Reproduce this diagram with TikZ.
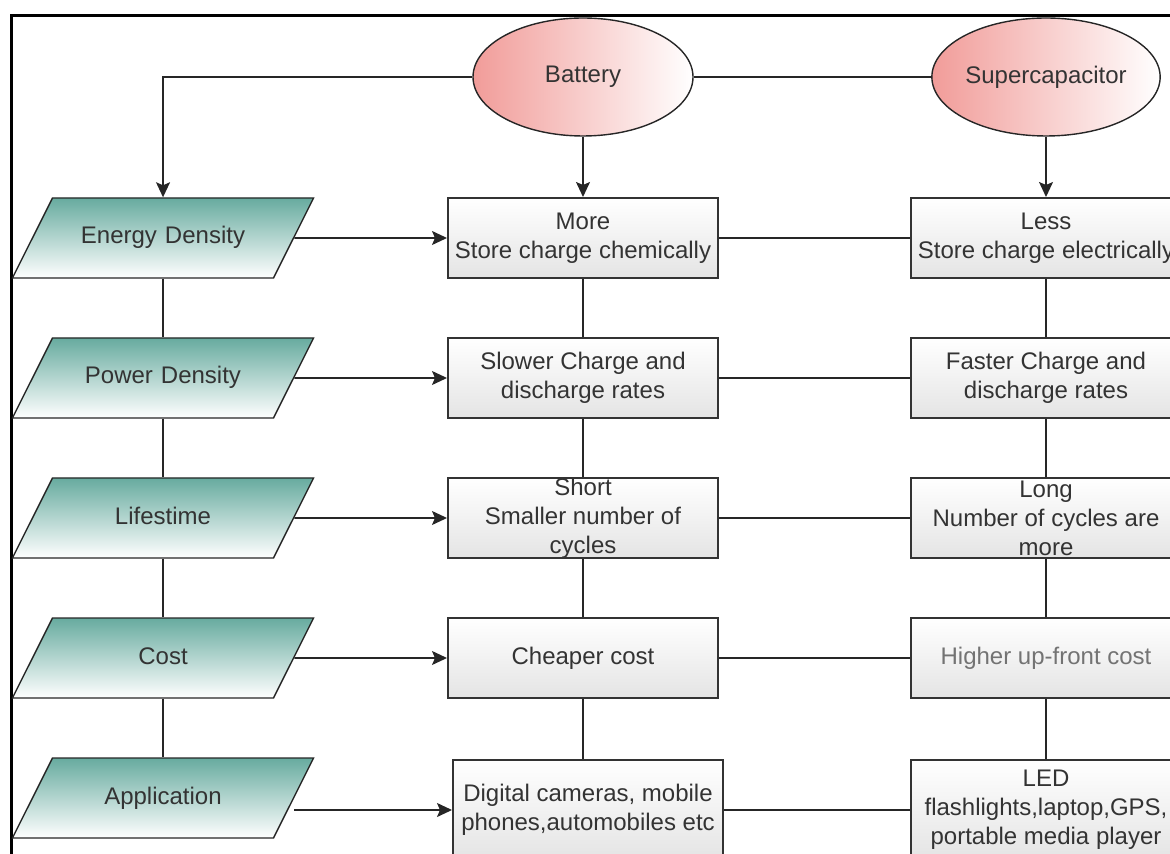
\documentclass[tikz,border=0pt]{standalone}
\usepackage{fontspec}
\setmainfont{Liberation Sans}
\usepackage{tikz}
\usetikzlibrary{shapes.geometric}
\usetikzlibrary{arrows.meta}
\definecolor{txtgray}{HTML}{333333}
\definecolor{ovalred}{HTML}{F19C99}
\definecolor{paragreen}{HTML}{67AB9F}
\definecolor{boxgray}{HTML}{E4E4E4}

\begin{document}
\begin{tikzpicture}[x=0.5pt,y=-0.5pt,
	font=\fontsize{12}{14.5}\selectfont,text=txtgray,
	oval/.style={ellipse,draw=black!85,line width=0.7pt,left color=ovalred,right color=white,
		minimum width=110pt,minimum height=59pt,inner sep=0pt},
	para/.style={trapezium,trapezium left angle=63.4,trapezium right angle=116.6,
		draw=black!85,line width=0.7pt,top color=paragreen,bottom color=white,
		text width=110.5pt,align=center,text height=9pt,text depth=3pt,
		inner xsep=0pt,inner ysep=14pt},
	cell/.style={rectangle,draw=black!80,line width=1pt,top color=white,bottom color=boxgray,
		minimum width=135pt,minimum height=40pt,align=center,inner sep=0pt},
	link/.style={draw=black!85,line width=0.8pt},
	arr/.style={link,-{Stealth[length=7.5pt,width=7pt,inset=1.5pt]}}
	]
	\useasboundingbox (0,0) rectangle (1170,854);
	\clip (0,0) rectangle (1170,854);
	\draw[line width=1.5pt] (11,16) rectangle (1220,900);
	%%%%%%%%%%%%%%%
	\node[oval] (bat) at (583,77) {Battery};
	\node[oval] (sc) at (1046,77) {Supercapacitor};
	%%%%%%%%%%%%%%%
	\node[para] (ed) at (163,238) {Energy Density};
	\node[para] (pd) at (163,378) {Power Density};
	\node[para] (lt) at (163,518) {Lifestime};
	\node[para] (co) at (163,658) {Cost};
	\node[para] (ap) at (163,798) {Application};
	%%%%%%%%%%%%%%%
	\node[cell] (b1) at (583,238) {More\\Store charge chemically};
	\node[cell] (b2) at (583,378) {Slower Charge and\\discharge rates};
	\node[cell] (b3) at (583,518) {Short\\Smaller number of\\cycles};
	\node[cell] (b4) at (583,658) {Cheaper cost};
	\node[cell,minimum height=50pt] (b5) at (588,810) {Digital cameras, mobile\\phones,automobiles etc};
	%%%%%%%%%%%%%%%
	\node[cell] (s1) at (1046,238) {Less\\Store charge electrically};
	\node[cell] (s2) at (1046,378) {Faster Charge and\\discharge rates};
	\node[cell] (s3) at (1046,518) {Long\\Number of cycles are\\more};
	\node[cell,text=black!55] (s4) at (1046,658) {Higher up-front cost};
	\node[cell,minimum height=50pt] (s5) at (1046,810) {LED\\flashlights,laptop,GPS,\\portable media player};
	%%%%%%%%%%%%%%%
	\draw[arr] (bat.west) -| (ed.north);
	\draw[link] (bat.east) -- (sc.west);
	\draw[arr] (bat.south) -- (b1.north);
	\draw[arr] (sc.south) -- (s1.north);
	\draw[link] (ed.south) -- (pd.north);
	\draw[link] (pd.south) -- (lt.north);
	\draw[link] (lt.south) -- (co.north);
	\draw[link] (co.south) -- (ap.north);
	\draw[arr] (ed.east) -- (b1.west);
	\draw[arr] (pd.east) -- (b2.west);
	\draw[arr] (lt.east) -- (b3.west);
	\draw[arr] (co.east) -- (b4.west);
	\draw[arr] (ap.east |- b5) -- (b5.west);
	%%%%%%%%%%%%%%%
	\draw[link] (b1.east) -- (s1.west);
	\draw[link] (b2.east) -- (s2.west);
	\draw[link] (b3.east) -- (s3.west);
	\draw[link] (b4.east) -- (s4.west);
	\draw[link] (b5.east) -- (s5.west);
	\draw[link] (b1.south) -- (b2.north);
	\draw[link] (b2.south) -- (b3.north);
	\draw[link] (b3.south) -- (b4.north);
	\draw[link] (b4.south) -- (b4.south |- b5.north);
	\draw[link] (s1.south) -- (s2.north);
	\draw[link] (s2.south) -- (s3.north);
	\draw[link] (s3.south) -- (s4.north);
	\draw[link] (s4.south) -- (s5.north);
\end{tikzpicture}
\end{document}
